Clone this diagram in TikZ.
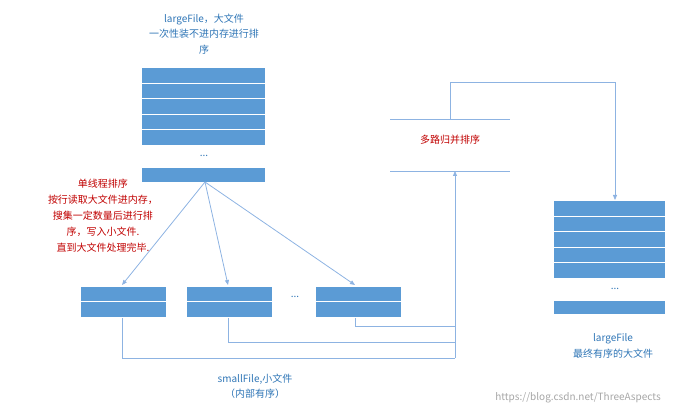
\documentclass[tikz,border=0pt]{standalone}
\usepackage{fontspec}
\setmainfont{Noto Sans CJK SC}
\usetikzlibrary{arrows.meta}
\definecolor{bfill}{HTML}{5B9BD5}
\definecolor{bline}{HTML}{8DB3E2}
\definecolor{btext}{HTML}{2E75B6}
\definecolor{rtext}{HTML}{C00000}
\tikzset{
  cell/.style={draw=white,line width=0.8pt,fill=bfill,inner sep=0,anchor=north west},
  conn/.style={draw=bline,line width=0.8pt},
  arr/.style={conn,-{Triangle[length=5pt,width=4pt]}},
  btxt/.style={text=btext,font=\fontsize{10}{15.5}\selectfont,align=center,inner sep=0},
  rtxt/.style={text=rtext,font=\fontsize{10}{16}\selectfont,align=center,inner sep=0},
}
\begin{document}
\begin{tikzpicture}[x=1pt,y=-1pt]
\useasboundingbox (0,0) rectangle (689,411);
% top stack
\foreach \i in {0,...,4}{
  \node[cell,minimum width=124pt,minimum height=15.6pt] (t\i) at (141,{67+15.6*\i}) {};
}
\node[btxt] (tdots) at (204,156) {...};
\node[cell,minimum width=124pt,minimum height=15pt] (tbar) at (141,167) {};
\node[btxt] (ttitle) at (204,34) {largeFile，大文件\\一次性装不进内存进行排\\序};
% red text
\node[rtxt,anchor=north] (red) at (103,179) {单线程排序\\按行读取大文件进内存，\\搜集一定数量后进行排\\序，写入小文件.\\直到大文件处理完毕.};
% small files
\foreach \n/\x in {a/80,b/186,c/315}{
  \node[cell,minimum width=86pt,minimum height=15.5pt] (\n1) at (\x,286) {};
  \node[cell,minimum width=86pt,minimum height=16pt] (\n2) at (\x,301.5) {};
}
\node[btxt] (sdots) at (295,297) {...};
\node[btxt] (stitle) at (255,386) {smallFile,小文件\\（内部有序）};
% arrows from top bar
\coordinate (tb) at (205,182);
\draw[arr] (tb) -- (122,285);
\draw[arr] (tb) -- (228,285);
\draw[arr] (tb) -- (355,285);
% merge
\coordinate (m1) at (390,119);
\coordinate (m2) at (510,119);
\coordinate (m3) at (390,171);
\coordinate (m4) at (510,171);
\draw[conn] (m1) -- (m2);
\draw[conn] (m3) -- (m4);
\node[rtxt] (merge) at (450,140) {多路归并排序};
\coordinate (mb) at (455,171);
\coordinate (j1) at (455,358);
\draw[conn] (a2.south) ++(-1,0) |- (j1);
\draw[conn] (b2.south) ++(-1,0) |- (455,342);
\draw[conn] (c2.south) ++(-3,0) |- (455,326);
\draw[arr] (j1) -- (mb);
% to right stack
\coordinate (mt) at (450,119);
\foreach \i in {0,...,4}{
  \node[cell,minimum width=112pt,minimum height=15.6pt] (r\i) at (553,{200+15.6*\i}) {};
}
\node[btxt] (rdots) at (615,289) {...};
\node[cell,minimum width=112pt,minimum height=14pt] (rbar) at (553,300) {};
\draw[arr] (mt) -- (450,82) -| (615,200);
\node[btxt] (rtitle) at (613,346) {largeFile\\最终有序的大文件};
\node[text=gray!70,font=\fontsize{10}{12}\selectfont] (wm) at (578,398) {https://blog.csdn.net/ThreeAspects};
\end{tikzpicture}
\end{document}
